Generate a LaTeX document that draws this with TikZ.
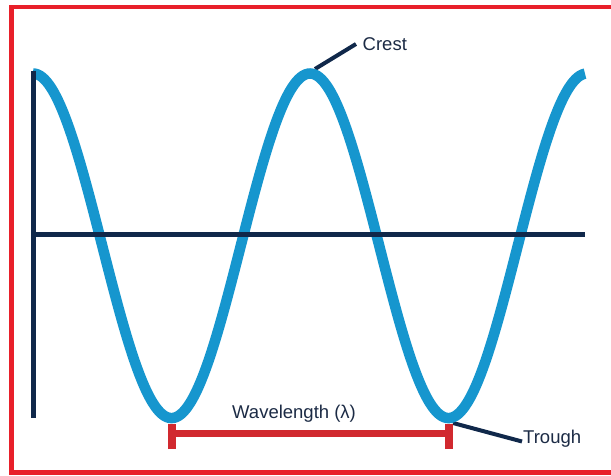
\documentclass[tikz,border=0pt]{standalone}
\usepackage{fontspec}
\setmainfont{Liberation Sans}
\definecolor{frame}{HTML}{E8202A}
\definecolor{barred}{HTML}{D1292F}
\definecolor{navy}{HTML}{10284A}
\definecolor{wave}{HTML}{1696CE}
\definecolor{txt}{HTML}{1C2B45}
\tikzset{
  axisline/.style={draw=navy, line width=5pt},
  pointer/.style={draw=navy, line width=4pt},
  waveline/.style={draw=wave, line width=10.5pt},
  wlbar/.style={draw=barred, line width=7pt},
  wltick/.style={draw=barred, line width=8pt},
  lbl/.style={font=\fontsize{18.5}{20}\selectfont, text=txt, inner sep=0pt}
}
\begin{document}
\begin{tikzpicture}[x=1pt,y=-1pt]
\useasboundingbox (0,0) rectangle (611,476);
\clip (0,0) rectangle (611,476);
\fill[white] (0,0) rectangle (611,476);
% frame
\draw[frame, line width=4.5pt] (11.3,7) rectangle (640,472.7);
% coordinates
\coordinate (crestpt) at (315,69);
\coordinate (crestend) at (356,44);
\coordinate (t1) at (172,433.5);
\coordinate (t2) at (449,433.5);
\coordinate (troughpt) at (453,423);
\coordinate (troughend) at (522,441.5);
\coordinate (o) at (33.5,234.5);
\coordinate (ytop) at (33.5,70.7);
\coordinate (ybot) at (33.5,418);
\coordinate (xend) at (585,234.5);
% pointers
\draw[pointer] (crestpt) -- (crestend);
\draw[pointer] (troughpt) -- (troughend);
% wave
\draw[waveline] plot[domain=33:585, samples=240, smooth] (\x, {245.8-172.3*cos(1.29964*(\x-310))});
% axes
\draw[axisline] (ytop) -- (ybot);
\draw[axisline] (o) -- (xend);
% wavelength bar
\draw[wlbar] (t1) -- (t2);
\draw[wltick] ([yshift=-15.5pt]t1) -- ([yshift=9.5pt]t1);
\draw[wltick] ([yshift=-15.5pt]t2) -- ([yshift=9.5pt]t2);
% labels
\node[lbl, anchor=base west] (crest) at (362.5,50.7) {Crest};
\node[lbl, anchor=base west] (wl) at (232,418.5) {Wavelength (λ)};
\node[lbl, anchor=base west] (trough) at (523,443) {Trough};
\end{tikzpicture}
\end{document}
